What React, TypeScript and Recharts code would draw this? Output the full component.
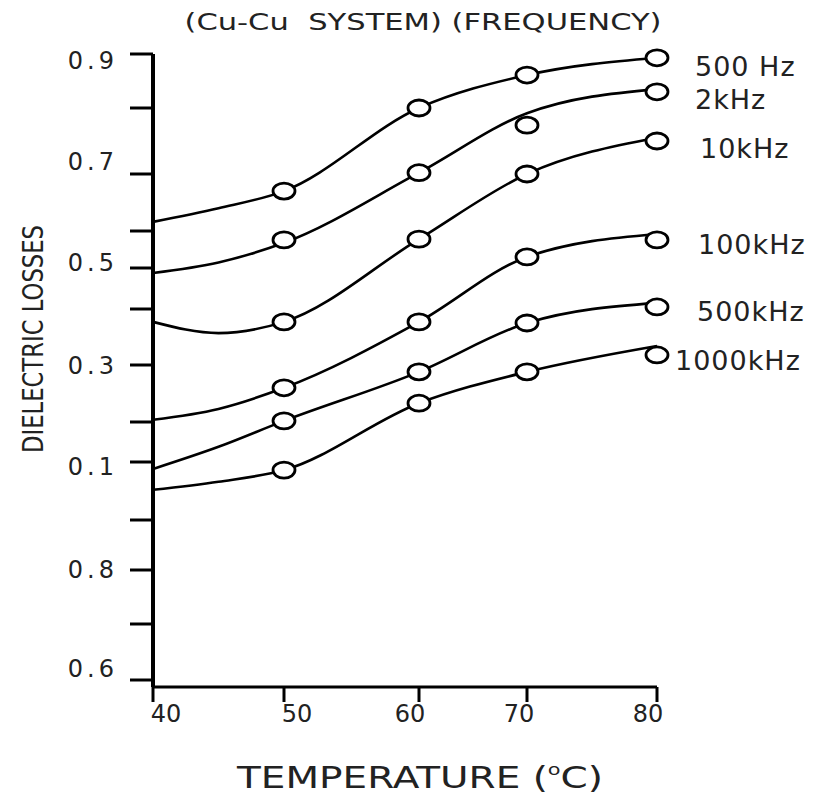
import React from 'react'
import { ComposedChart, Line, XAxis, YAxis } from 'recharts'

// frequency series, top to bottom
const FREQUENCIES = ['500 Hz', '2kHz', '10kHz', '100kHz', '500kHz', '1000kHz']

// smoothed curves, sampled along temperature (°C)
const CURVE_TEMPS = [40, 45, 50, 60, 70, 80]
const CURVE_500HZ = [0.616, 0.64, 0.67, 0.8, 0.861, 0.893]
const CURVE_2KHZ = [0.488, 0.515, 0.568, 0.702, 0.792, 0.835]
const CURVE_10KHZ = [0.377, 0.357, 0.377, 0.578, 0.7, 0.755]
const CURVE_100KHZ = [0.204, 0.223, 0.26, 0.377, 0.53, 0.592]
const CURVE_500KHZ = [0.088, 0.138, 0.202, 0.288, 0.375, 0.415]
const CURVE_1000KHZ = [0.052, 0.066, 0.086, 0.233, 0.288, 0.334]

// measured points
const MEASURED_TEMPS = [50, 60, 70, 80]
const MEASURED_500HZ = [0.67, 0.8, 0.861, 0.893]
const MEASURED_2KHZ = [0.576, 0.702, 0.774, 0.83]
const MEASURED_10KHZ = [0.377, 0.578, 0.7, 0.75]
const MEASURED_100KHZ = [0.26, 0.377, 0.53, 0.576]
const MEASURED_500KHZ = [0.202, 0.288, 0.375, 0.405]
const MEASURED_1000KHZ = [0.086, 0.233, 0.288, 0.318]

const X_TICKS = [40, 50, 60, 70, 80]
const Y_TICKS = [-0.3, -0.2, -0.1, 0, 0.1, 0.2, 0.3, 0.4, 0.5, 0.6, 0.7, 0.8, 0.9]
const Y_TICK_LABELS = ['0.6', '', '0.8', '', '0.1', '', '0.3', '', '0.5', '', '0.7', '', '0.9']
const Y_MIN = -0.313

const CURVES = [CURVE_500HZ, CURVE_2KHZ, CURVE_10KHZ, CURVE_100KHZ, CURVE_500KHZ, CURVE_1000KHZ]
const MEASURED = [MEASURED_500HZ, MEASURED_2KHZ, MEASURED_10KHZ, MEASURED_100KHZ, MEASURED_500KHZ, MEASURED_1000KHZ]

const curveRows = CURVE_TEMPS.map((t, i) => {
  const row: Record<string, number> = { t }
  CURVES.forEach((c, s) => (row[`s${s}`] = c[i]))
  return row
})
const measuredRows = MEASURED_TEMPS.map((t, i) => {
  const row: Record<string, number> = { t }
  MEASURED.forEach((m, s) => (row[`s${s}`] = m[i]))
  return row
})

// the printed axes are not evenly spaced: pixel offsets of each tick along the axis
const X_STOPS = [0, 131, 266, 374, 504]
const Y_STOPS = [0, 7, 63, 117, 167, 225, 265, 322, 378, 419, 456, 513, 579, 633]

// d3-like piecewise linear scale so recharts can place ticks and points on the uneven axes
function piecewiseScale(values: number[], stops: number[]): any {
  const span = stops[stops.length - 1]
  let dom: any[] = [values[0], values[values.length - 1]]
  let rng: number[] = [0, 1]
  const scale: any = (v: any) => {
    if (v == null) return NaN
    const n = Number(v)
    let i = 1
    while (i < values.length - 1 && n > values[i]) i++
    const f = (n - values[i - 1]) / (values[i] - values[i - 1])
    const t = (stops[i - 1] + f * (stops[i] - stops[i - 1])) / span
    return rng[0] + t * (rng[1] - rng[0])
  }
  scale.domain = (d?: any[]) => {
    if (d === undefined) return dom
    dom = d
    return scale
  }
  scale.range = (r?: number[]) => {
    if (r === undefined) return rng
    rng = r
    return scale
  }
  scale.copy = () => piecewiseScale(values, stops).domain(dom).range(rng)
  scale.ticks = () => values
  scale.invert = (px: number) => {
    const t = ((px - rng[0]) / (rng[1] - rng[0])) * span
    let i = 1
    while (i < stops.length - 1 && t > stops[i]) i++
    const f = (t - stops[i - 1]) / (stops[i] - stops[i - 1])
    return values[i - 1] + f * (values[i] - values[i - 1])
  }
  return scale
}

const xScale = piecewiseScale(X_TICKS, X_STOPS)
const yScale = piecewiseScale([Y_MIN, ...Y_TICKS], Y_STOPS)

const FONT = '"DejaVu Sans", sans-serif'
const TEXT = '#222'

// nudges for the hand-lettered tick labels
const X_LABEL_DX = [13, 13, -9, -8, -9]
const Y_LABEL_DY: Record<string, number> = { '0.9': 7, '0.7': -12, '0.5': -5, '0.3': 1, '0.1': 5, '0.8': 0, '0.6': -11 }
// series name placement relative to the last marker
const NAME_DX = [38, 38, 43, 41, 40, 18]
const NAME_DY = [9, 8, 7, 5, 5, 6]

const XTick = ({ x, y, payload }: any) => {
  const i = X_TICKS.indexOf(payload.value)
  return (
    <text x={x + (X_LABEL_DX[i] || 0)} y={y} dy="0.71em" textAnchor="middle" fontFamily={FONT} fontSize={24} fill={TEXT}>
      {payload.value}
    </text>
  )
}

const YTick = ({ x, y, payload }: any) => {
  const label = Y_TICK_LABELS[Y_TICKS.indexOf(payload.value)]
  if (!label) return null
  return (
    <text x={x} y={y + (Y_LABEL_DY[label] || 0)} textAnchor="end" dominantBaseline="central" fontFamily={FONT} fontSize={24} letterSpacing={4} fill={TEXT}>
      {label}
    </text>
  )
}

const markerFor = (s: number) => (props: any) => {
  const { cx, cy, index } = props
  if (cx == null || cy == null || isNaN(cy)) return <g key={`m${s}-${index}`} />
  const last = index === MEASURED_TEMPS.length - 1
  return (
    <g key={`m${s}-${index}`}>
      <ellipse cx={cx} cy={cy} rx={11} ry={8} fill="#fff" stroke="#000" strokeWidth={2.8} />
      {last && (
        <text x={cx + NAME_DX[s]} y={cy + NAME_DY[s]} dominantBaseline="central" fontFamily={FONT} fontSize={27} letterSpacing={1} fill={TEXT}>
          {FREQUENCIES[s]}
        </text>
      )}
    </g>
  )
}

export default function App() {
  return (
    <div style={{ position: 'absolute', left: 0, top: 0, background: '#fff' }}>
      <ComposedChart width={813} height={799} margin={{ top: 54, right: 156, bottom: 0, left: 0 }}>
        <XAxis
          type="number"
          dataKey="t"
          scale={xScale}
          domain={[40, 80]}
          ticks={X_TICKS}
          interval={0}
          height={112}
          tickSize={15}
          tickMargin={3}
          axisLine={{ stroke: '#000', strokeWidth: 3 }}
          tickLine={{ stroke: '#000', strokeWidth: 3 }}
          tick={<XTick />}
        />
        <YAxis
          type="number"
          scale={yScale}
          domain={[Y_MIN, 0.9]}
          ticks={Y_TICKS}
          interval={0}
          width={153}
          tickSize={23}
          tickMargin={12}
          axisLine={{ stroke: '#000', strokeWidth: 4 }}
          tickLine={{ stroke: '#000', strokeWidth: 3 }}
          tick={<YTick />}
        />
        {FREQUENCIES.map((f, s) => (
          <Line
            key={`c${s}`}
            data={curveRows}
            dataKey={`s${s}`}
            type="monotone"
            stroke="#000"
            strokeWidth={2.6}
            dot={false}
            activeDot={false}
            isAnimationActive={false}
          />
        ))}
        {FREQUENCIES.map((f, s) => (
          <Line
            key={`m${s}`}
            data={measuredRows}
            dataKey={`s${s}`}
            stroke="none"
            dot={markerFor(s)}
            activeDot={false}
            isAnimationActive={false}
          />
        ))}
        <text
          x={423}
          y={22}
          textAnchor="middle"
          dominantBaseline="central"
          fontFamily={FONT}
          fontSize={23}
          fill={TEXT}
          textLength={477}
          lengthAdjust="spacingAndGlyphs"
          style={{ whiteSpace: 'pre' }}
        >
          (Cu-Cu  SYSTEM) (FREQUENCY)
        </text>
        <text
          transform="translate(33,339) rotate(-90)"
          textAnchor="middle"
          dominantBaseline="central"
          fontFamily={FONT}
          fontSize={28}
          fill={TEXT}
          textLength={228}
          lengthAdjust="spacingAndGlyphs"
        >
          DIELECTRIC LOSSES
        </text>
        <text
          x={420}
          y={788}
          textAnchor="middle"
          fontFamily={FONT}
          fontSize={30}
          fill={TEXT}
          textLength={366}
          lengthAdjust="spacingAndGlyphs"
        >
          TEMPERATURE (<tspan fontSize={16} dy={-13}>o</tspan>
          <tspan dy={13}>C)</tspan>
        </text>
      </ComposedChart>
    </div>
  )
}
